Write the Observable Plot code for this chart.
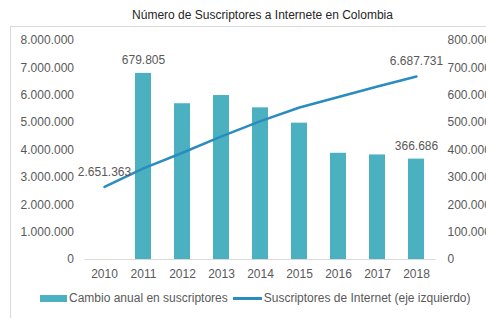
<!DOCTYPE html>
<html>
<head>
<meta charset="utf-8">
<script src="https://cdn.jsdelivr.net/npm/d3@7"></script>
<script src="https://cdn.jsdelivr.net/npm/@observablehq/plot@0.6"></script>
<style>
  body { margin: 0; background: #fff; font-family: "Liberation Sans", Arial, sans-serif; }
  #wrap { position: relative; width: 486px; height: 318px; overflow: hidden; background: #fff; }
  #frame { position: absolute; left: 10px; top: 26px; width: 600px; height: 400px; border: 1px solid #d9d9d9; box-sizing: border-box; }
  #title { position: absolute; left: 0; top: 8px; width: 525px; text-align: center; font-size: 12px; line-height: 14px; color: #262626; white-space: nowrap; }
  #chart { position: absolute; left: 0; top: 0; }
  #legend { position: absolute; left: 40px; top: 291px; font-size: 12px; line-height: 14px; color: #595959; display: flex; align-items: center; white-space: nowrap; }
  .sw { display: inline-block; }
</style>
</head>
<body>
<div id="wrap">
  <div id="frame"></div>
  <div id="title"></div>
  <div id="chart"></div>
  <div id="legend"></div>
</div>
<script>
const titleText = "Número de Suscriptores a Internete en Colombia";
const years = ["2010", "2011", "2012", "2013", "2014", "2015", "2016", "2017", "2018"];
const subscribers = [2651363, 3331168, 3900000, 4499000, 5053000, 5551000, 5939000, 6321045, 6687731];
const annualChange = [null, 679805, 569000, 599000, 554000, 498000, 388000, 382000, 366686];
const leftTicks = [0, 1000000, 2000000, 3000000, 4000000, 5000000, 6000000, 7000000, 8000000];
const rightTicks = [0, 100000, 200000, 300000, 400000, 500000, 600000, 700000, 800000];
const barLabelYears = ["2011", "2018"];
const lineLabelYears = ["2010", "2018"];
const seriesNames = ["Cambio anual en suscriptores", "Suscriptores de Internet (eje izquierdo)"];
const barColor = "#4bb1c0";
const lineColor = "#2b8cbe";
const textColor = "#595959";

const ratio = 10; // right axis (bars) to left axis (line)
const locale = d3.formatLocale({decimal: ",", thousands: ".", grouping: [3], currency: ["", ""]});
const fmt = locale.format(",d");

const rows = years.map((y, i) => ({year: y, subs: subscribers[i], change: annualChange[i]}));
const barRows = rows.filter(d => d.change != null);

document.getElementById("title").textContent = titleText;

const plot = Plot.plot({
  width: 486,
  height: 290,
  marginTop: 40,
  marginBottom: 31,
  marginLeft: 84.5,
  marginRight: 50.5,
  style: {fontFamily: "'Liberation Sans', Arial, sans-serif", fontSize: "12px", color: textColor, background: "transparent", overflow: "visible"},
  x: {type: "band", domain: years, paddingInner: 0.59, paddingOuter: 0.295},
  y: {domain: [0, 8000000]},
  marks: [
    Plot.ruleY([0], {stroke: "#d9d9d9", strokeWidth: 1}),
    Plot.barY(barRows, {x: "year", y: d => d.change * ratio, fill: barColor}),
    Plot.line(rows, {x: "year", y: "subs", stroke: lineColor, strokeWidth: 2.5, strokeLinecap: "round"}),
    Plot.text(barRows.filter(d => barLabelYears.includes(d.year)), {
      x: "year", y: d => d.change * ratio, text: d => fmt(d.change),
      dy: -13, fill: textColor, fontSize: 12, lineAnchor: "middle"
    }),
    Plot.text(rows.filter(d => lineLabelYears.includes(d.year)), {
      x: "year", y: "subs", text: d => fmt(d.subs),
      dy: -15, fill: textColor, fontSize: 12, lineAnchor: "middle"
    }),
    Plot.axisY({anchor: "left", ticks: leftTicks, tickFormat: d => fmt(d), tickSize: 0, tickPadding: 11, label: null}),
    Plot.axisY({anchor: "right", ticks: rightTicks.map(v => v * ratio), tickFormat: d => fmt(d / ratio), tickSize: 0, tickPadding: 11.5, label: null}),
    Plot.axisX({tickSize: 0, tickPadding: 10, label: null})
  ]
});
document.getElementById("chart").appendChild(plot);

const legend = document.getElementById("legend");
const sw1 = document.createElement("span");
sw1.className = "sw";
Object.assign(sw1.style, {width: "27px", height: "7px", background: barColor, marginRight: "2px"});
const t1 = document.createElement("span"); t1.textContent = seriesNames[0];
const sw2 = document.createElement("span");
sw2.className = "sw";
Object.assign(sw2.style, {width: "29px", height: "3px", background: lineColor, marginLeft: "5px", marginRight: "2px"});
const t2 = document.createElement("span"); t2.textContent = seriesNames[1];
legend.append(sw1, t1, sw2, t2);
</script>
</body>
</html>
